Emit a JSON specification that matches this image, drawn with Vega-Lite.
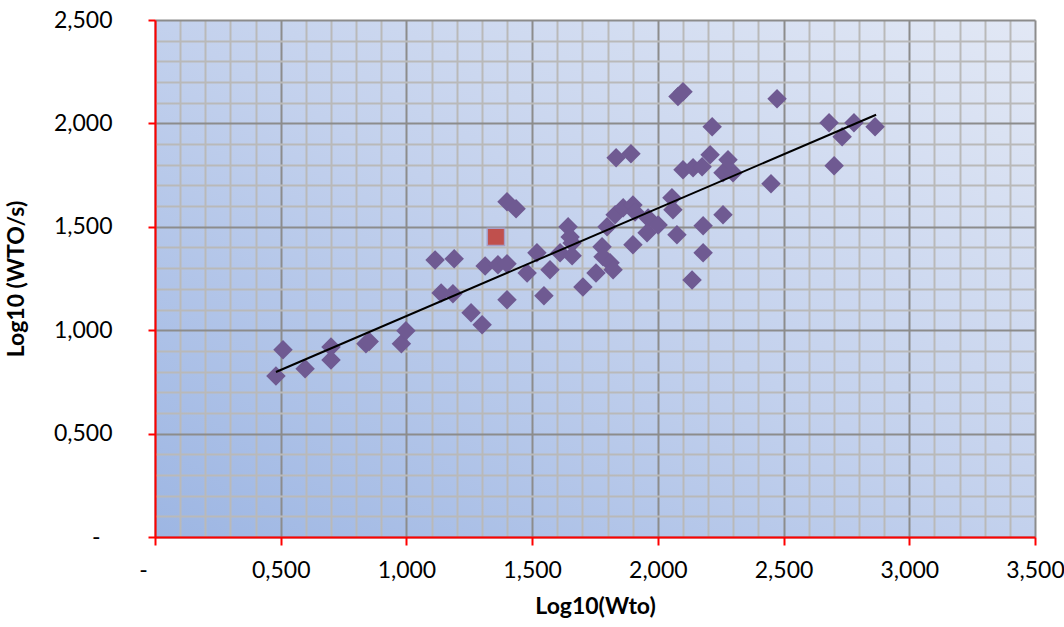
{
  "$schema": "https://vega.github.io/schema/vega-lite/v6.json",
  "width": 880,
  "height": 517,
  "autosize": {"type": "none"},
  "padding": {"left": 155, "top": 20, "right": 29, "bottom": 90},
  "background": "white",
  "config": {
    "view": {
      "stroke": null,
      "fill": {"gradient": "linear", "x1": 0, "y1": 1, "x2": 1, "y2": 0,
        "stops": [{"offset": 0, "color": "#9db6e3"}, {"offset": 0.5, "color": "#c3d1ed"}, {"offset": 1, "color": "#e2e8f5"}]}
    },
    "axis": {
      "labelFont": "Lato", "titleFont": "Lato", "labelFontSize": 23, "titleFontSize": 23,
      "labelColor": "#000000", "titleColor": "#000000", "titleFontWeight": "bold",
      "domainColor": "#ff0000", "domainWidth": 2, "tickWidth": 2, "gridWidth": 2,
      "labelOverlap": false, "labelFlush": false, "labelBound": false, "tickCount": 200
    }
  },
  "datasets": {
    "points": [
      {"x": 0.481, "y": 0.779}, {"x": 0.509, "y": 0.905}, {"x": 0.597, "y": 0.813}, {"x": 0.700, "y": 0.919},
      {"x": 0.700, "y": 0.856}, {"x": 0.839, "y": 0.934}, {"x": 0.852, "y": 0.945}, {"x": 0.980, "y": 0.934},
      {"x": 0.998, "y": 0.997}, {"x": 1.114, "y": 1.340}, {"x": 1.138, "y": 1.180}, {"x": 1.185, "y": 1.176},
      {"x": 1.190, "y": 1.345}, {"x": 1.257, "y": 1.084}, {"x": 1.301, "y": 1.026}, {"x": 1.313, "y": 1.311},
      {"x": 1.364, "y": 1.316}, {"x": 1.400, "y": 1.321}, {"x": 1.400, "y": 1.147}, {"x": 1.400, "y": 1.621},
      {"x": 1.436, "y": 1.587}, {"x": 1.480, "y": 1.277}, {"x": 1.519, "y": 1.374}, {"x": 1.547, "y": 1.166},
      {"x": 1.571, "y": 1.292}, {"x": 1.611, "y": 1.374}, {"x": 1.643, "y": 1.500}, {"x": 1.651, "y": 1.451},
      {"x": 1.659, "y": 1.422}, {"x": 1.659, "y": 1.360}, {"x": 1.702, "y": 1.209}, {"x": 1.754, "y": 1.277},
      {"x": 1.778, "y": 1.403}, {"x": 1.782, "y": 1.355}, {"x": 1.810, "y": 1.326}, {"x": 1.822, "y": 1.292},
      {"x": 1.798, "y": 1.500}, {"x": 1.834, "y": 1.834}, {"x": 1.893, "y": 1.853}, {"x": 1.830, "y": 1.558},
      {"x": 1.862, "y": 1.592}, {"x": 1.901, "y": 1.606}, {"x": 1.909, "y": 1.572}, {"x": 1.901, "y": 1.413},
      {"x": 1.961, "y": 1.543}, {"x": 1.957, "y": 1.471}, {"x": 2.001, "y": 1.509}, {"x": 2.056, "y": 1.640},
      {"x": 2.060, "y": 1.582}, {"x": 2.076, "y": 1.461}, {"x": 2.080, "y": 2.130}, {"x": 2.100, "y": 2.153},
      {"x": 2.136, "y": 1.243}, {"x": 2.180, "y": 1.505}, {"x": 2.180, "y": 1.374}, {"x": 2.216, "y": 1.984},
      {"x": 2.100, "y": 1.776}, {"x": 2.140, "y": 1.785}, {"x": 2.176, "y": 1.790}, {"x": 2.208, "y": 1.848},
      {"x": 2.259, "y": 1.761}, {"x": 2.279, "y": 1.824}, {"x": 2.299, "y": 1.761}, {"x": 2.259, "y": 1.558},
      {"x": 2.474, "y": 2.119}, {"x": 2.450, "y": 1.708}, {"x": 2.681, "y": 2.003}, {"x": 2.733, "y": 1.935},
      {"x": 2.780, "y": 2.003}, {"x": 2.864, "y": 1.984}, {"x": 2.701, "y": 1.795}
    ],
    "outlier": [{"x": 1.356, "y": 1.451}],
    "trend": [{"x": 0.481, "y": 0.798}, {"x": 2.868, "y": 2.042}]
  },
  "layer": [
    {
      "data": {"name": "points"},
      "mark": {"type": "point", "shape": "diamond", "filled": true, "size": 380, "color": "#6f5a92", "opacity": 1},
      "encoding": {
        "x": {"field": "x", "type": "quantitative", "scale": {"domain": [0, 3.5], "nice": false, "zero": false},
          "axis": {
            "title": "Log10(Wto)",
            "values": [0,0.1,0.2,0.3,0.4,0.5,0.6,0.7,0.8,0.9,1,1.1,1.2,1.3,1.4,1.5,1.6,1.7,1.8,1.9,2,2.1,2.2,2.3,2.4,2.5,2.6,2.7,2.8,2.9,3,3.1,3.2,3.3,3.4,3.5],
            "tickCount": 200,
            "grid": true,
            "gridColor": {"condition": {"test": "abs(datum.value*2 - round(datum.value*2)) < 0.001", "value": "#8c8c8c"}, "value": "#b9b9b9"},
            "tickColor": {"condition": {"test": "abs(datum.value*2 - round(datum.value*2)) < 0.001", "value": "#ff0000"}, "value": "transparent"},
            "tickSize": 8,
            "labelPadding": 14,
            "labelOffset": {"condition": {"test": "datum.value == 0", "value": -12}, "value": 0},
            "labelExpr": "abs(datum.value*2 - round(datum.value*2)) < 0.001 ? (datum.value == 0 ? '-' : replace(format(datum.value, '.3f'), '.', ',')) : ''",
            "titleY": 58,
            "titleBaseline": "top"
          }},
        "y": {"field": "y", "type": "quantitative", "scale": {"domain": [0, 2.5], "nice": false, "zero": false},
          "axis": {
            "title": "Log10 (WTO/s)",
            "values": [0,0.1,0.2,0.3,0.4,0.5,0.6,0.7,0.8,0.9,1,1.1,1.2,1.3,1.4,1.5,1.6,1.7,1.8,1.9,2,2.1,2.2,2.3,2.4,2.5],
            "tickCount": 200,
            "grid": true,
            "gridColor": {"condition": {"test": "abs(datum.value*2 - round(datum.value*2)) < 0.001", "value": "#8c8c8c"}, "value": "#b9b9b9"},
            "tickColor": {"condition": {"test": "abs(datum.value*2 - round(datum.value*2)) < 0.001", "value": "#ff0000"}, "value": "transparent"},
            "tickSize": 7,
            "labelPadding": {"condition": {"test": "datum.value == 0", "value": 48}, "value": 36},
            "labelExpr": "abs(datum.value*2 - round(datum.value*2)) < 0.001 ? (datum.value == 0 ? '-' : replace(format(datum.value, '.3f'), '.', ',')) : ''",
            "titleX": -127,
            "titleBaseline": "bottom"
          }}
      }
    },
    {
      "data": {"name": "outlier"},
      "mark": {"type": "point", "shape": "square", "filled": true, "size": 300, "color": "#c0504d", "stroke": "#a79fc6", "strokeWidth": 1.5, "opacity": 1},
      "encoding": {
        "x": {"field": "x", "type": "quantitative"},
        "y": {"field": "y", "type": "quantitative"}
      }
    },
    {
      "data": {"name": "trend"},
      "mark": {"type": "line", "color": "#000000", "strokeWidth": 2},
      "encoding": {
        "x": {"field": "x", "type": "quantitative"},
        "y": {"field": "y", "type": "quantitative"}
      }
    }
  ]
}
